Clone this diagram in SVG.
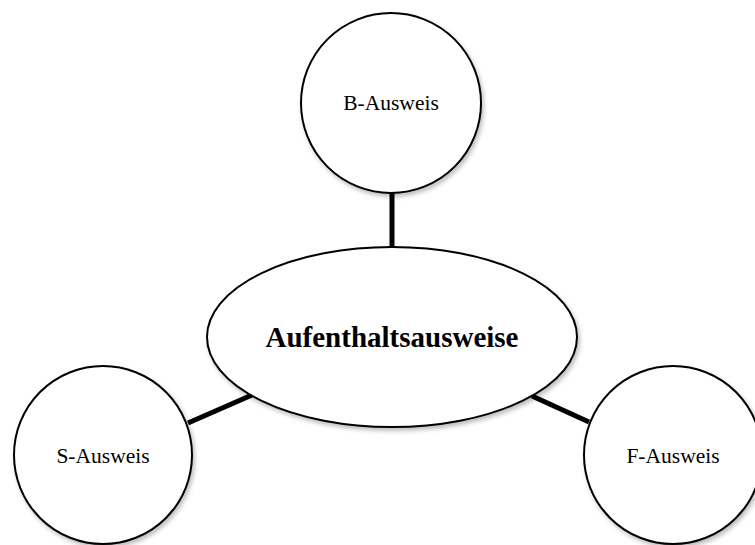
<svg xmlns="http://www.w3.org/2000/svg" width="755" height="545" viewBox="0 0 755 545">
  <style>
    .shape { fill: #ffffff; stroke: #000000; stroke-width: 2; filter: url(#shadow); }
    .label { font-family: "Liberation Serif", "DejaVu Serif", serif; font-size: 21.5px; fill: #000000; text-anchor: middle; }
    .title { font-family: "Liberation Serif", "DejaVu Serif", serif; font-size: 29px; font-weight: bold; fill: #000000; text-anchor: middle; }
    .conn { stroke: #000000; stroke-width: 5; fill: none; }
  </style>
  <defs>
    <filter id="shadow" x="-10%" y="-10%" width="125%" height="125%">
      <feDropShadow dx="2" dy="3" stdDeviation="2" flood-color="#000000" flood-opacity="0.25"/>
    </filter>
  </defs>
  <rect width="755" height="545" fill="#ffffff"/>
  <g id="connectors">
    <line class="conn" x1="392" y1="192" x2="392" y2="248"/>
    <line class="conn" x1="188" y1="423" x2="252" y2="395"/>
    <line class="conn" x1="532" y1="396" x2="589" y2="422"/>
  </g>
  <g id="node-b">
    <circle class="shape" cx="391" cy="103" r="90"/>
    <text class="label" x="391" y="110">B-Ausweis</text>
  </g>
  <g id="node-center">
    <ellipse class="shape" cx="392" cy="337" rx="185" ry="90"/>
    <text class="title" x="392" y="347">Aufenthaltsausweise</text>
  </g>
  <g id="node-s">
    <circle class="shape" cx="103" cy="455" r="89"/>
    <text class="label" x="103" y="463">S-Ausweis</text>
  </g>
  <g id="node-f">
    <circle class="shape" cx="673" cy="455" r="89"/>
    <text class="label" x="673" y="463">F-Ausweis</text>
  </g>
</svg>
